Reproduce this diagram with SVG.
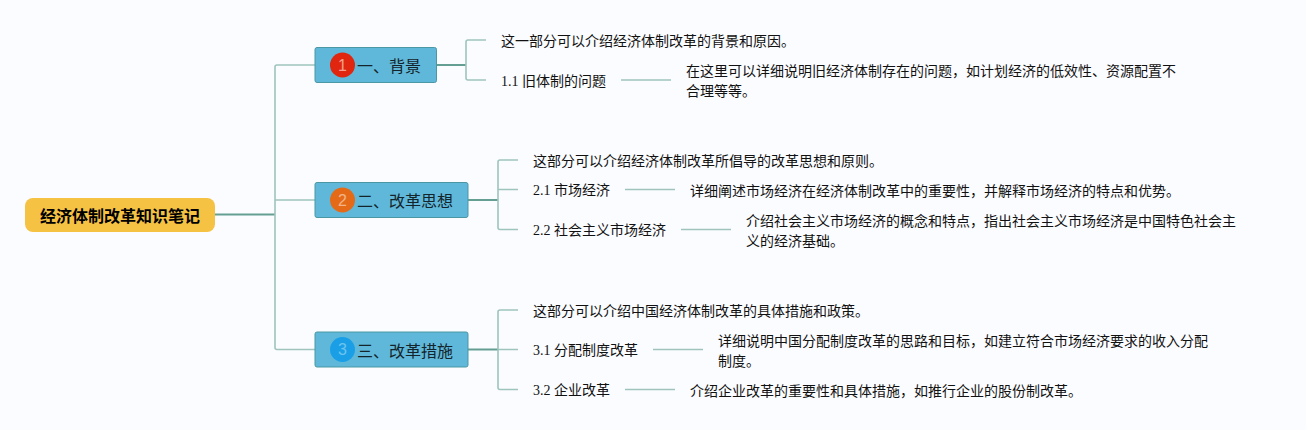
<svg xmlns="http://www.w3.org/2000/svg" width="1306" height="430" viewBox="0 0 1306 430">
<style>
text{font-family:"Liberation Serif","Noto Sans CJK SC",serif;font-size:14px;fill:#111}
.t{font-family:"Noto Sans CJK SC",sans-serif;font-size:16px;fill:#14242b}
.r{font-family:"Noto Sans CJK SC",sans-serif;font-size:16px;font-weight:700;fill:#000}
.n{font-family:"Liberation Sans","Noto Sans CJK SC",sans-serif;font-size:16px;text-anchor:middle}
.m{fill:#5fb8d9;stroke:#4b97a3;stroke-width:1}
.c{fill:none;stroke:#9fc4bd;stroke-width:1.6}
.d{fill:none;stroke:#659f94;stroke-width:2}
</style>
<rect width="1306" height="430" fill="#fbfcff"/>
<g id="connectors">
<path class="d" d="M215 214.500H275"/>
<path class="c" d="M315 65H277Q275 65 275 67V347.500Q275 349.500 277 349.500H315M275 200H315"/>
<path class="d" d="M437 65H466M468 200H498M468 349.500H498"/>
<path class="c" d="M486 40H468Q466 40 466 42V78Q466 80 468 80H486"/>
<path class="c" d="M518 160H500Q498 160 498 162V227.500Q498 229.500 500 229.500H518M498 189.500H518"/>
<path class="c" d="M518 310H500Q498 310 498 312V387.500Q498 389.500 500 389.500H518M498 349.500H518"/>
<path class="c" d="M621 80H671M625 189.500H675M681 229.500H731M653 349.500H703M625 389.500H675"/>
</g>
<g id="root"><rect x="25" y="198" width="190" height="34" rx="8" fill="#f6c244"/><text class="r" x="40" y="221.500">经济体制改革知识笔记</text></g>
<g id="topic1"><rect class="m" x="315" y="47.500" width="121.500" height="35" rx="2"/><circle cx="342.500" cy="65" r="12.500" fill="#e0260f"/><text class="n" x="342.500" y="70.500" style="fill:#f3a08f">1</text><text class="t" x="357" y="71.500">一、背景</text></g>
<g id="topic2"><rect class="m" x="315" y="182.500" width="153" height="35" rx="2"/><circle cx="342.500" cy="200" r="12.500" fill="#e56a17"/><text class="n" x="342.500" y="205.500" style="fill:#f2b487">2</text><text class="t" x="357" y="206.500">二、改革思想</text></g>
<g id="topic3"><rect class="m" x="315" y="332" width="153" height="35" rx="2"/><circle cx="342.500" cy="349.500" r="12.500" fill="#1a9fe6"/><text class="n" x="342.500" y="355" style="fill:#6cc4ef">3</text><text class="t" x="357" y="356.500">三、改革措施</text></g>
<g id="n1a"><text x="501" y="46">这一部分可以介绍经济体制改革的背景和原因。</text></g>
<g id="n11"><text x="501" y="86">1.1 旧体制的问题</text></g>
<g id="n11d"><text x="686" y="76">在这里可以详细说明旧经济体制存在的问题，如计划经济的低效性、资源配置不</text><text x="686" y="96">合理等等。</text></g>
<g id="n2a"><text x="533" y="166">这部分可以介绍经济体制改革所倡导的改革思想和原则。</text></g>
<g id="n21"><text x="533" y="195">2.1 市场经济</text></g>
<g id="n21d"><text x="690" y="196">详细阐述市场经济在经济体制改革中的重要性，并解释市场经济的特点和优势。</text></g>
<g id="n22"><text x="533" y="235">2.2 社会主义市场经济</text></g>
<g id="n22d"><text x="746" y="226">介绍社会主义市场经济的概念和特点，指出社会主义市场经济是中国特色社会主</text><text x="746" y="246">义的经济基础。</text></g>
<g id="n3a"><text x="533" y="316">这部分可以介绍中国经济体制改革的具体措施和政策。</text></g>
<g id="n31"><text x="533" y="355">3.1 分配制度改革</text></g>
<g id="n31d"><text x="718" y="346">详细说明中国分配制度改革的思路和目标，如建立符合市场经济要求的收入分配</text><text x="718" y="366">制度。</text></g>
<g id="n32"><text x="533" y="395">3.2 企业改革</text></g>
<g id="n32d"><text x="690" y="396">介绍企业改革的重要性和具体措施，如推行企业的股份制改革。</text></g>
</svg>
